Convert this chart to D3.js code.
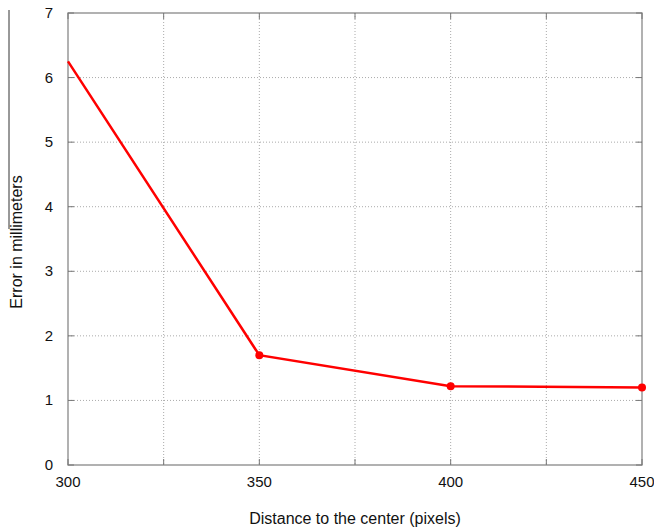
<!DOCTYPE html>
<html><head><meta charset="utf-8">
<script src="https://cdn.jsdelivr.net/npm/d3@7"></script>
<style>body{margin:0;background:#fff}svg{display:block}text{font-family:"Liberation Sans",Arial,sans-serif;fill:#111}</style>
</head><body>
<script>
const distances = [300, 350, 400, 450];
const errors = [6.25, 1.70, 1.22, 1.20];
const yTicks = [0, 1, 2, 3, 4, 5, 6, 7];
const xTicks = [300, 350, 400, 450];
const xGrid = [325, 350, 375, 400, 425];
const xLabel = "Distance to the center (pixels)";
const yLabel = "Error in millimeters";

const W = 654, H = 529;
const L = 68, R = 642, T = 13, B = 465;
const svg = d3.select("body").append("svg").attr("width", W).attr("height", H);
const x = d3.scaleLinear().domain([300, 450]).range([L, R]);
const y = d3.scaleLinear().domain([0, 7]).range([B, T]);

// grid
const g = svg.append("g");
g.selectAll(".gy").data(yTicks.slice(1, -1)).enter().append("line")
  .attr("x1", L).attr("x2", R).attr("y1", d => y(d)).attr("y2", d => y(d))
  .attr("stroke", "#aaa").attr("stroke-width", 1).attr("stroke-dasharray", "1,2");
g.selectAll(".gx").data(xGrid).enter().append("line")
  .attr("y1", T).attr("y2", B).attr("x1", d => x(d)).attr("x2", d => x(d))
  .attr("stroke", "#aaa").attr("stroke-width", 1).attr("stroke-dasharray", "1,2");

// frame
svg.append("rect").attr("x", L).attr("y", T).attr("width", R - L).attr("height", B - T)
  .attr("fill", "none").attr("stroke", "#888").attr("stroke-width", 1.3);

// ticks (inward, mirrored)
const tk = 6;
svg.selectAll(".tyl").data(yTicks).enter().append("line")
  .attr("x1", L).attr("x2", L + tk).attr("y1", d => y(d)).attr("y2", d => y(d)).attr("stroke", "#777");
svg.selectAll(".tyr").data(yTicks).enter().append("line")
  .attr("x1", R).attr("x2", R - tk).attr("y1", d => y(d)).attr("y2", d => y(d)).attr("stroke", "#777");
const allX = [300, 325, 350, 375, 400, 425, 450];
svg.selectAll(".txb").data(allX).enter().append("line")
  .attr("y1", B).attr("y2", B - tk).attr("x1", d => x(d)).attr("x2", d => x(d)).attr("stroke", "#777");
svg.selectAll(".txt").data(allX).enter().append("line")
  .attr("y1", T).attr("y2", T + tk).attr("x1", d => x(d)).attr("x2", d => x(d)).attr("stroke", "#777");

// tick labels
svg.selectAll(".ly").data(yTicks).enter().append("text")
  .attr("x", 53).attr("y", d => y(d) + 5).attr("text-anchor", "end")
  .attr("font-size", 15).text(d => d);
svg.selectAll(".lx").data(xTicks).enter().append("text")
  .attr("x", d => x(d)).attr("y", 487).attr("text-anchor", "middle")
  .attr("font-size", 15).text(d => d);

// axis labels
svg.append("text").attr("x", 355).attr("y", 524).attr("text-anchor", "middle")
  .attr("font-size", 16).text(xLabel);
svg.append("text").attr("transform", "translate(22,242) rotate(-90)").attr("text-anchor", "middle")
  .attr("font-size", 16).text(yLabel);
// stray vertical line at left edge
svg.append("line").attr("x1", 9).attr("x2", 9).attr("y1", 10).attr("y2", 229)
  .attr("stroke", "#333").attr("stroke-width", 1);

// data line
const data = distances.map((d, i) => ({x: d, y: errors[i], i}));
svg.append("path").datum(data)
  .attr("d", d3.line().x(d => x(d.x)).y(d => y(d.y)))
  .attr("fill", "none").attr("stroke", "#ff0000").attr("stroke-width", 2.5);
svg.selectAll(".pt").data(data.filter(d => d.i > 0)).enter().append("circle")
  .attr("cx", d => x(d.x)).attr("cy", d => y(d.y)).attr("r", 4).attr("fill", "#ff0000");
</script>
</body></html>
